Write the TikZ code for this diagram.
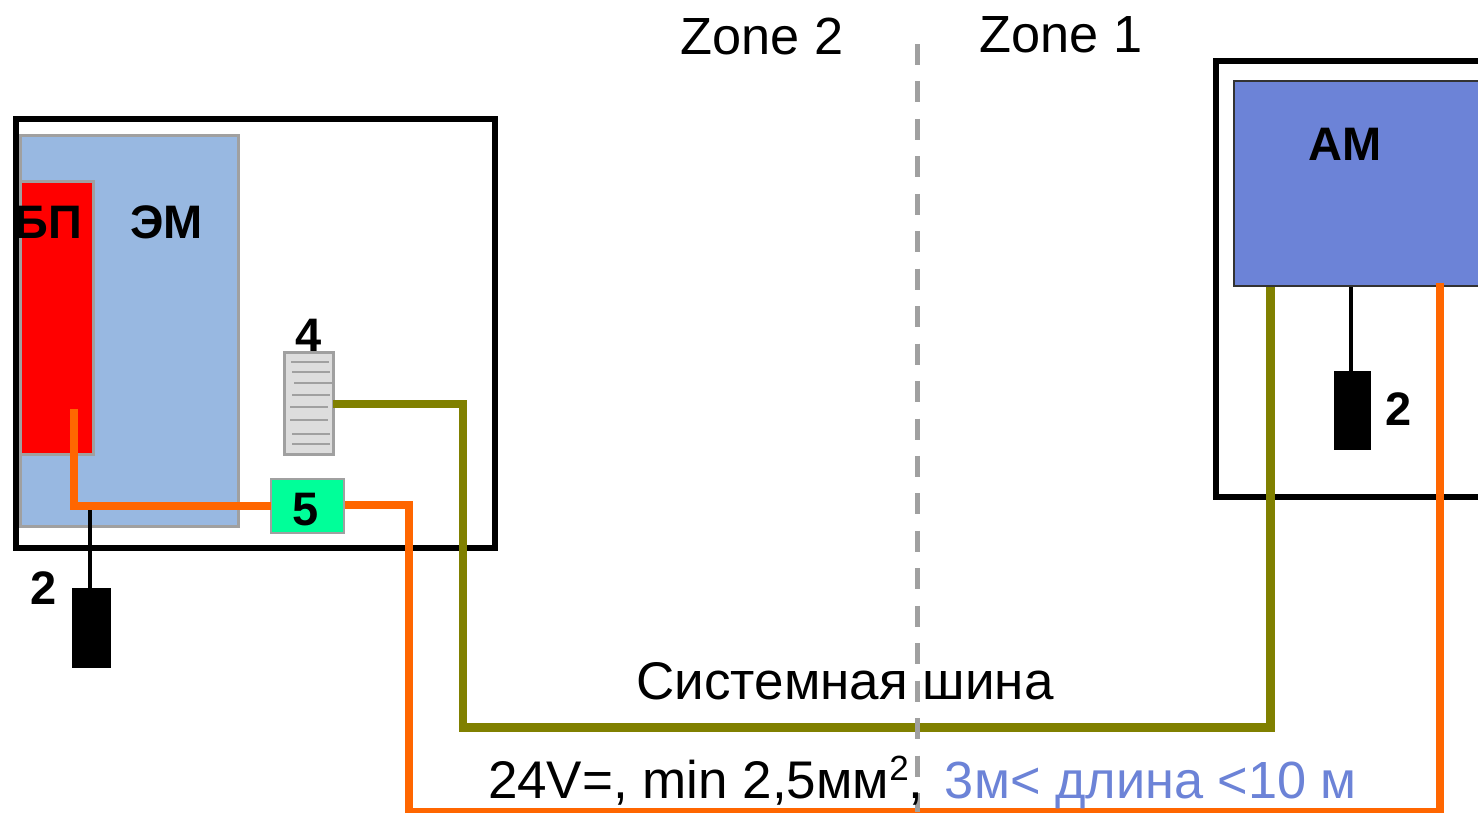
\documentclass[tikz,border=0pt]{standalone}
\usepackage{fontspec}
\setmainfont{Liberation Sans}
\definecolor{emblue}{HTML}{98B8E1}
\definecolor{amblue}{HTML}{6C83D7}
\definecolor{edgegray}{HTML}{A0A0A0}
\definecolor{wireorange}{HTML}{FF6600}
\definecolor{wireolive}{HTML}{808000}
\definecolor{termgreen}{HTML}{00FF99}
\definecolor{termgray}{HTML}{DDDDDD}
\tikzset{
  box/.style={rectangle,inner sep=0pt,outer sep=0pt,anchor=center},
  framebox/.style={box,draw=black,line width=6pt},
  grayedge/.style={box,draw=edgegray,line width=3pt},
  earth/.style={box,fill=black},
  wireO/.style={draw=wireorange,line width=8.5pt,line join=miter},
  wireV/.style={draw=wireolive,line width=8.5pt,line join=miter},
  wireK/.style={draw=black,line width=4.6pt},
  rib/.style={draw=edgegray,line width=2.2pt},
  zone/.style={draw=edgegray,line width=5pt,dash pattern=on 21pt off 16.45pt},
  lab/.style={inner sep=0pt,outer sep=0pt,anchor=base,font=\fontsize{53}{55}\selectfont},
  zlab/.style={inner sep=0pt,outer sep=0pt,anchor=base,font=\fontsize{52.3}{55}\selectfont},
  blab/.style={inner sep=0pt,outer sep=0pt,anchor=base,font=\fontsize{47}{49}\selectfont\bfseries},
}
\begin{document}
\begin{tikzpicture}[x=1pt,y=-1pt]
\clip (0,0) rectangle (1478,812);
\fill[white] (0,0) rectangle (1478,812);
% left cabinet
\node[grayedge,fill=emblue,minimum width=218pt,minimum height=391pt] (em) at (129.5,330.5) {};
\node[grayedge,fill=red,minimum width=73pt,minimum height=273pt] (bp) at (56.5,317.5) {};
\node[framebox,minimum width=479pt,minimum height=429pt] (leftframe) at (255.5,333.5) {};
% terminal block 4
\node[box,draw=edgegray,line width=3pt,fill=termgray,minimum width=49pt,minimum height=102pt] (tb) at (308.5,403) {};
\foreach \n/\a/\b/\y in {1/291/329/362,2/292/330/372,3/294/333/383,4/292/330/395,5/290/328/407,6/290/328/420,7/292/330/434,8/292/330/444}{
  \coordinate (r\n a) at (\a,\y);
  \coordinate (r\n b) at (\b,\y);
  \draw[rib] (r\n a) -- (r\n b);
}
% right cabinet
\node[framebox,minimum width=400pt,minimum height=436pt] (rightframe) at (1416,278.5) {};
\node[box,draw=black!80,line width=2pt,fill=amblue,minimum width=400pt,minimum height=205pt] (am) at (1434,183.5) {};
% earth electrodes
\node[earth,minimum width=39pt,minimum height=80pt] (earthL) at (91.5,628) {};
\node[earth,minimum width=37pt,minimum height=79pt] (earthR) at (1352.5,410.5) {};
\coordinate (earthLtop) at (90,588);
\coordinate (earthLstart) at (90,510);
\coordinate (earthRtop) at (1351,371);
\coordinate (earthRstart) at (1351,287);
\draw[wireK] (earthLstart) -- (earthLtop);
\draw[wireK] (earthRstart) -- (earthRtop);
% fuse 5
\node[box,draw=edgegray,line width=2pt,fill=termgreen,minimum width=73pt,minimum height=54pt] (fuse) at (307.5,505.5) {};
% olive bus
\coordinate (v0) at (333,404);
\coordinate (v1) at (463,404);
\coordinate (v2) at (463,727.5);
\coordinate (v3) at (1270.5,727.5);
\coordinate (v4) at (1270.5,287);
\draw[wireV] (v0) -- (v1) -- (v2) -- (v3) -- (v4);
% orange supply
\coordinate (o0) at (74,409);
\coordinate (o1) at (74,506);
\coordinate (o2) at (270.5,506);
\draw[wireO] (o0) -- (o1) -- (o2);
\coordinate (o3) at (345,505);
\coordinate (o4) at (409,505);
\coordinate (o5) at (409,812);
\coordinate (o6) at (1440,812);
\coordinate (o7) at (1440,283);
\draw[wireO] (o3) -- (o4) -- (o5) -- (o6) -- (o7);
% zone boundary
\coordinate (z0) at (917,44);
\coordinate (z1) at (917,812);
\draw[zone] (z0) -- (z1);
% labels
\node[zlab] (zone2) at (762,54) {Zone 2};
\node[zlab] (zone1) at (1061,52) {Zone 1};
\node[lab] (bus) at (845,699) {Системная шина};
\node[lab,anchor=base west] (spec) at (488,798) {24V=, min 2,5мм\raisebox{18pt}{\fontsize{35}{37}\selectfont 2},};
\node[zlab,anchor=base east,text=amblue] (len) at (1357,798) {3м< длина <10 м};
\node[blab] (bpl) at (48.5,238) {БП};
\node[blab] (eml) at (166.5,238) {ЭМ};
\node[blab] (aml) at (1345,160) {АМ};
\node[blab] (n4) at (309,351) {4};
\node[blab] (n5) at (306,525) {5};
\node[blab] (n2l) at (44,604) {2};
\node[blab] (n2r) at (1399,425) {2};
\end{tikzpicture}
\end{document}
